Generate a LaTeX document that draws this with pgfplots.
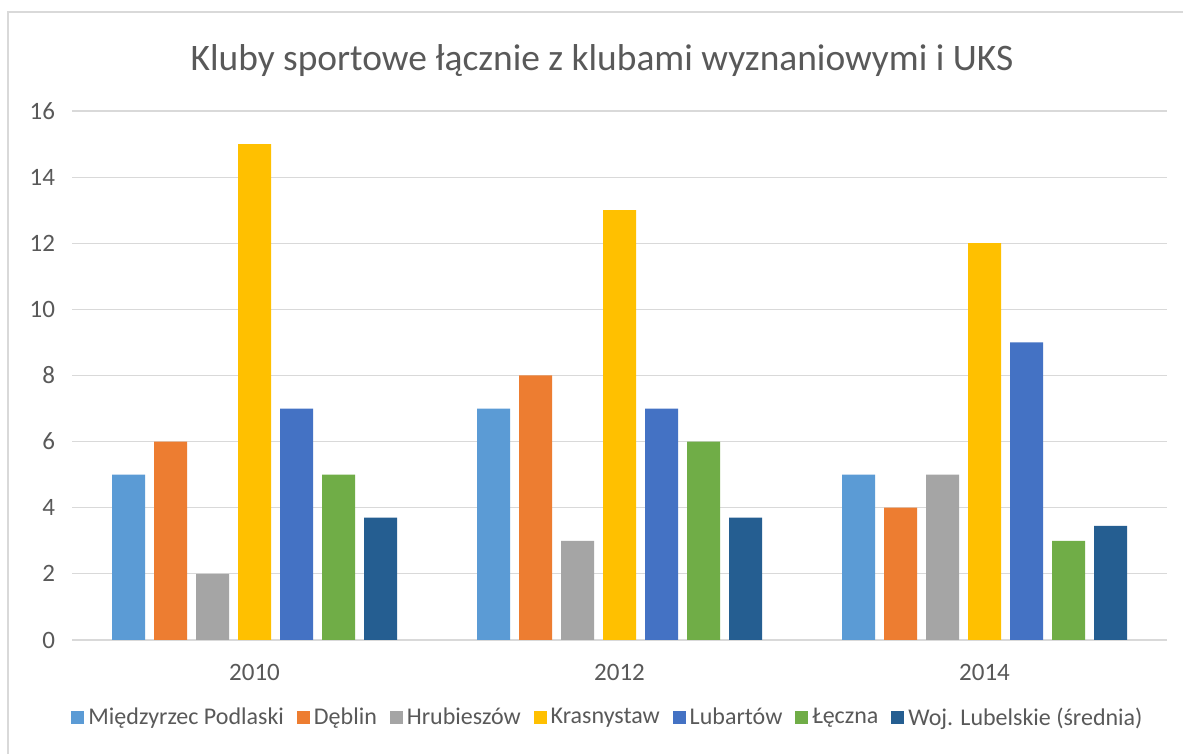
\documentclass[border=0pt]{standalone}
\usepackage{fontspec}
\setmainfont{Carlito}
\usepackage{pgfplots}
\pgfplotsset{compat=1.18}
\definecolor{c1}{HTML}{5B9BD5}
\definecolor{c2}{HTML}{ED7D31}
\definecolor{c3}{HTML}{A5A5A5}
\definecolor{c4}{HTML}{FFC000}
\definecolor{c5}{HTML}{4472C4}
\definecolor{c6}{HTML}{70AD47}
\definecolor{c7}{HTML}{255E91}
\definecolor{txt}{HTML}{595959}
\definecolor{grd}{HTML}{D9D9D9}
\begin{document}
\begin{tikzpicture}
\useasboundingbox (-36pt,-57pt) rectangle (555.5pt,320pt);
\fill[white] (-36pt,-57pt) rectangle (555.5pt,320pt);
\draw[grd, line width=1.2pt] (-32pt,-70pt) -- (-32pt,314pt) -- (570pt,314pt);
\begin{axis}[
  scale only axis,
  width=547.5pt, height=264.5pt,
  xmin=-0.5, xmax=2.5,
  ymin=0, ymax=16,
  ybar=4.5pt, bar width=16.5pt,
  xtick={0,1,2}, xticklabels={2010,2012,2014},
  ytick={0,2,...,16},
  /pgf/number format/assume math mode=true,
  ymajorgrids, grid style={grd, line width=0.6pt},
  axis line style={draw=none},
  axis x line*=bottom, axis y line*=left,
  major tick length=0pt,
  tick label style={font=\fontsize{12.5}{14}\selectfont, text=txt},
  xticklabel style={yshift=-8.5pt},
  yticklabel style={xshift=-5pt},
  title={Kluby sportowe łącznie z klubami wyznaniowymi i UKS},
  title style={font=\fontsize{18.7}{22}\selectfont, text=txt, at={(0.484,1)}, anchor=center, yshift=19pt},
  legend columns=7,
  legend style={at={(0.4904,-0.147)}, anchor=center, draw=none, fill=none,
    font=\fontsize{12}{14}\selectfont, text=txt,
    /tikz/every even column/.append style={column sep=4.5pt}},
  legend image code/.code={\fill[#1] (0pt,-3pt) rectangle (6.5pt,3.5pt);},
  legend cell align=left,
]
\draw[grd, line width=0.8pt] (axis cs:-0.5,0) -- (axis cs:2.5,0);
\addplot[fill=c1, draw=none] coordinates {(0,5) (1,7) (2,5)};
\addplot[fill=c2, draw=none] coordinates {(0,6) (1,8) (2,4)};
\addplot[fill=c3, draw=none] coordinates {(0,2) (1,3) (2,5)};
\addplot[fill=c4, draw=none] coordinates {(0,15) (1,13) (2,12)};
\addplot[fill=c5, draw=none] coordinates {(0,7) (1,7) (2,9)};
\addplot[fill=c6, draw=none] coordinates {(0,5) (1,6) (2,3)};
\addplot[fill=c7, draw=none] coordinates {(0,3.7) (1,3.7) (2,3.45)};
\legend{Międzyrzec Podlaski, Dęblin, Hrubieszów, Krasnystaw, Lubartów, Łęczna, Woj. Lubelskie (średnia)}
\end{axis}
\end{tikzpicture}
\end{document}
